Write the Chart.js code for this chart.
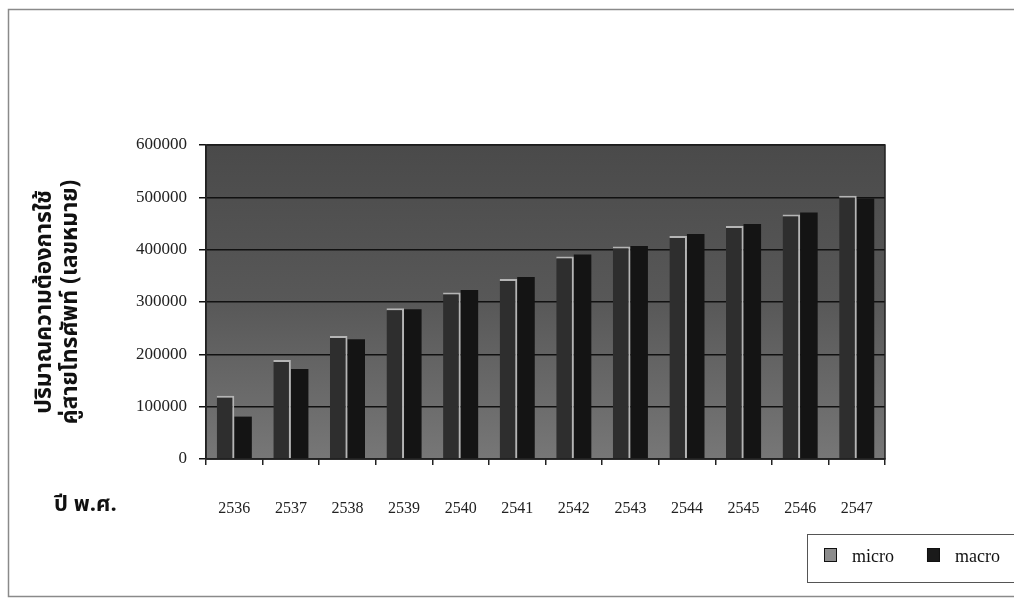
<!DOCTYPE html>
<html>
<head>
<meta charset="utf-8">
<script src="https://cdn.jsdelivr.net/npm/chart.js@4.4.1/dist/chart.umd.min.js"></script>
<style>
  html, body { margin: 0; padding: 0; background: #fff; }
  #wrap { position: relative; width: 1014px; height: 598px; }
  #year-label {
    position: absolute; left: 54px; top: 488px;
    font-family: "Noto Sans Thai", "Noto Sans", "DejaVu Sans", sans-serif;
    font-weight: bold; font-size: 22px; color: #111;
  }
</style>
</head>
<body>
<div id="wrap">
  <canvas id="chart" width="1014" height="598"></canvas>
  <div id="year-label">ปี พ.ศ.</div>
</div>
<script>
const years = ['2536', '2537', '2538', '2539', '2540', '2541', '2542', '2543', '2544', '2545', '2546', '2547']
const micro = [121000, 189000, 235000, 288000, 318000, 344000, 387000, 406000, 426000, 445000, 467000, 503000]
const macro = [81000, 172000, 229000, 286000, 323000, 348000, 391000, 407000, 430000, 449000, 471000, 498000]
const yTicks = [0, 100000, 200000, 300000, 400000, 500000, 600000]
const yTitle = ['ปริมาณความต้องการใช้', 'คู่สายโทรศัพท์ (เลขหมาย)']

const thaiFont = '"Noto Sans Thai", "Noto Sans", "DejaVu Sans", sans-serif'
const serif = '"Liberation Serif", "DejaVu Serif", serif'

// frame, plot background and the boxed legend
const decor = {
  id: 'decor',
  beforeDraw(chart) {
    const { ctx, chartArea: a } = chart
    ctx.save()
    ctx.strokeStyle = '#8a8a8a'
    ctx.lineWidth = 1.5
    ctx.beginPath()
    ctx.moveTo(1014, 9.5); ctx.lineTo(8.5, 9.5); ctx.lineTo(8.5, 596.5); ctx.lineTo(1014, 596.5)
    ctx.stroke()
    const g = ctx.createLinearGradient(0, a.top, 0, a.bottom)
    g.addColorStop(0, '#4a4a4a')
    g.addColorStop(0.5, '#585858')
    g.addColorStop(1, '#777777')
    ctx.fillStyle = g
    ctx.fillRect(a.left, a.top, a.right - a.left, a.bottom - a.top)
    ctx.restore()
  },
  afterDraw(chart) {
    const { ctx, chartArea: a } = chart
    ctx.save()
    ctx.strokeStyle = '#222'
    ctx.lineWidth = 1.5
    ctx.strokeRect(a.left, a.top, a.right - a.left, a.bottom - a.top)

    // legend
    ctx.strokeStyle = '#555'
    ctx.lineWidth = 1
    ctx.strokeRect(807.5, 534.5, 220, 48)
    ctx.font = '18px ' + serif
    ctx.textBaseline = 'middle'
    let x = 824
    chart.data.datasets.forEach(ds => {
      ctx.fillStyle = ds.legendColor
      ctx.fillRect(x, 548, 13, 14)
      ctx.strokeStyle = '#111'
      ctx.strokeRect(x + 0.5, 548.5, 12, 13)
      ctx.fillStyle = '#111'
      ctx.fillText(ds.label, x + 28, 557)
      x += 28 + ctx.measureText(ds.label).width + 33
    })
    ctx.restore()
  }
}

new Chart(document.getElementById('chart'), {
  type: 'bar',
  data: {
    labels: years,
    datasets: [{
      label: 'micro',
      data: micro,
      backgroundColor: '#2e2e2e',
      borderColor: '#b5b5b5',
      borderWidth: { top: 2, right: 2, left: 0, bottom: 0 },
      legendColor: '#8c8c8c'
    }, {
      label: 'macro',
      data: macro,
      backgroundColor: '#141414',
      borderWidth: 0,
      legendColor: '#1a1a1a'
    }]
  },
  options: {
    responsive: false,
    animation: false,
    layout: { padding: { top: 145, right: 129, left: 0, bottom: 0 } },
    plugins: {
      legend: { display: false },
      tooltip: { enabled: false }
    },
    datasets: {
      bar: { barPercentage: 1, categoryPercentage: 0.62 }
    },
    scales: {
      x: {
        afterFit: s => { s.height = 139 },
        grid: { drawOnChartArea: false, tickLength: 6, color: '#222', lineWidth: 1.5 },
        border: { color: '#222', width: 1.5 },
        ticks: { color: '#222', padding: 34, font: { family: serif, size: 16 } }
      },
      y: {
        min: 0,
        max: 600000,
        afterFit: s => { s.width = 206 },
        afterBuildTicks: s => { s.ticks = yTicks.map(v => ({ value: v })) },
        grid: { color: '#111', lineWidth: 1.5, tickLength: 7 },
        border: { color: '#222', width: 1.5 },
        ticks: { color: '#222', padding: 12, font: { family: serif, size: 17 }, callback: v => String(v) },
        title: {
          display: true,
          text: yTitle,
          color: '#111',
          padding: { top: 34, bottom: 0 },
          font: { family: thaiFont, size: 23, weight: 'bold', lineHeight: 1.1 }
        }
      }
    }
  },
  plugins: [decor]
})
</script>
</body>
</html>
